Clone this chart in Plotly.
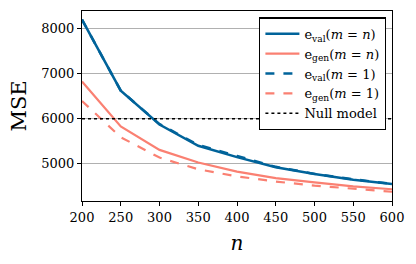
import plotly.graph_objects as go

n_vals = [200, 250, 300, 350, 400, 450, 500, 550, 600]
e_val_mn = [8190, 6620, 5870, 5400, 5150, 4925, 4775, 4650, 4558]
e_gen_mn = [6820, 5830, 5310, 5030, 4830, 4685, 4590, 4505, 4440]
e_val_m1 = [8190, 6620, 5880, 5420, 5175, 4935, 4780, 4660, 4560]
e_gen_m1 = [6390, 5590, 5140, 4880, 4725, 4610, 4520, 4445, 4385]
null_mse = 6000

BLUE = "#00639a"
SALMON = "#fa8072"
FONT = "DejaVu Serif"

fig = go.Figure()
fig.add_trace(go.Scatter(x=n_vals, y=e_val_mn, mode="lines", name="e<sub>val</sub>(<i>m</i> = <i>n</i>)",
                         line=dict(color=BLUE, width=2.5)))
fig.add_trace(go.Scatter(x=n_vals, y=e_gen_mn, mode="lines", name="e<sub>gen</sub>(<i>m</i> = <i>n</i>)",
                         line=dict(color=SALMON, width=2.2)))
fig.add_trace(go.Scatter(x=n_vals, y=e_val_m1, mode="lines", name="e<sub>val</sub>(<i>m</i> = 1)",
                         line=dict(color=BLUE, width=2.5, dash="dash")))
fig.add_trace(go.Scatter(x=n_vals, y=e_gen_m1, mode="lines", name="e<sub>gen</sub>(<i>m</i> = 1)",
                         line=dict(color=SALMON, width=2.2, dash="dash")))
fig.add_trace(go.Scatter(x=[n_vals[0], n_vals[-1]], y=[null_mse, null_mse], mode="lines", name="Null model",
                         line=dict(color="black", width=1.5, dash="dot")))

fig.update_layout(
    width=416, height=264,
    margin=dict(l=82, r=24, t=11, b=63),
    plot_bgcolor="white", paper_bgcolor="white",
    font=dict(family=FONT, size=13, color="black"),
    showlegend=True,
    legend=dict(x=0.981, y=0.966, xanchor="right", yanchor="top",
                bgcolor="white", bordercolor="black", borderwidth=1.3,
                font=dict(family=FONT, size=13), tracegroupgap=0, itemwidth=34),
)
fig.update_xaxes(range=[200, 600], tickvals=[200, 250, 300, 350, 400, 450, 500, 550, 600],
                 showline=True, linecolor="black", linewidth=1, mirror=True, automargin=False,
                 ticks="outside", ticklen=4, tickcolor="black", showgrid=False, zeroline=False,
                 title=dict(text="<i>n</i>", font=dict(family=FONT, size=20), standoff=12),
                 tickfont=dict(family=FONT, size=13))
fig.update_yaxes(range=[4180, 8380], tickvals=[5000, 6000, 7000, 8000],
                 showline=True, linecolor="black", linewidth=1, mirror=True, automargin=False,
                 ticks="outside", ticklen=4, tickcolor="black",
                 showgrid=True, gridcolor="#b0b0b0", gridwidth=1, zeroline=False,
                 title=dict(text="MSE", font=dict(family=FONT, size=21), standoff=8),
                 tickfont=dict(family=FONT, size=13))

fig.write_html("out.html", config={"displayModeBar": False},
               post_script="document.body.style.margin='0px';")
